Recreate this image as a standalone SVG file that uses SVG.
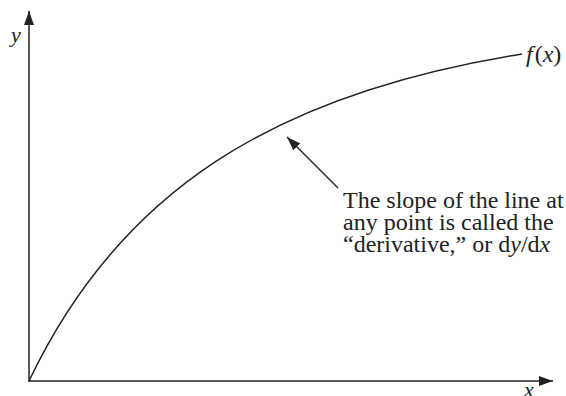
<svg xmlns="http://www.w3.org/2000/svg" width="566" height="396" viewBox="0 0 566 396">
<style>
.ln{stroke:#222;stroke-width:1.5;fill:none}
.t{font-family:"Liberation Serif","Times New Roman",serif;font-size:22px;fill:#222}
.b{font-size:24px}
.i{font-style:italic}
</style>
<defs>
<marker id="ah" viewBox="0 0 14 10" refX="14" refY="5" markerWidth="14" markerHeight="10" markerUnits="userSpaceOnUse" orient="auto">
<path d="M0,0 L14,5 L0,10 z" fill="#222"/>
</marker>
</defs>
<rect width="566" height="396" fill="#fff"/>
<g id="axes">
<line class="ln" x1="29" y1="381.5" x2="29" y2="11" marker-end="url(#ah)"/>
<line class="ln" x1="28.3" y1="381" x2="553" y2="381" marker-end="url(#ah)"/>
<text class="t i" x="11" y="42">y</text>
<text class="t i" x="524" y="397">x</text>
</g>
<g id="curve">
<path class="ln" d="M29,381 C119,192 272,94 522,54"/>
<text class="t b" x="526" y="62"><tspan class="i">f</tspan><tspan dx="2">(</tspan><tspan class="i">x</tspan>)</text>
</g>
<g id="annotation">
<line class="ln" x1="338" y1="188" x2="287" y2="137" marker-end="url(#ah)"/>
<text class="t b" x="343" y="208">The slope of the line at</text>
<text class="t b" x="343" y="230">any point is called the</text>
<text class="t b" x="343" y="252">“derivative,” or d<tspan class="i">y</tspan>/d<tspan class="i">x</tspan></text>
</g>
</svg>
